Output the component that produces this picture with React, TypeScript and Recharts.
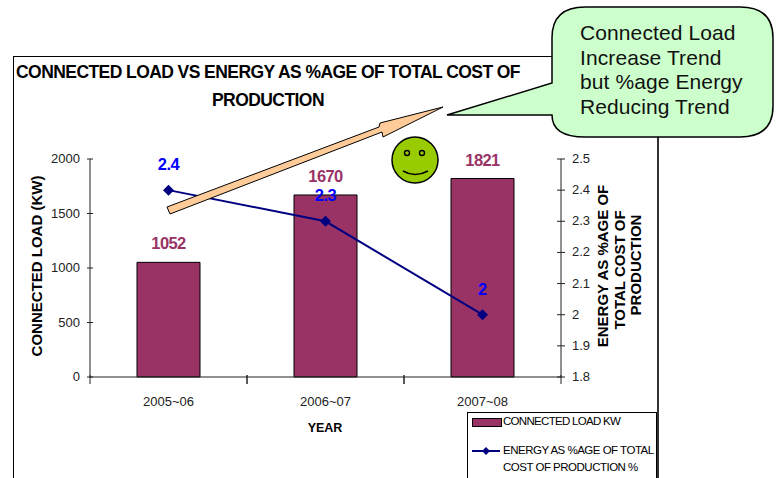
import React from "react";
import { ComposedChart, Bar, Line, XAxis, YAxis, LabelList, Legend } from "recharts";

const years = ["2005~06", "2006~07", "2007~08"];
const connectedLoad = [1052, 1670, 1821];
const energyPct = [2.4, 2.3, 2];
const leftTicks = [0, 500, 1000, 1500, 2000];
const rightTicks = [1.8, 1.9, 2, 2.1, 2.2, 2.3, 2.4, 2.5];
const titleLines = ["CONNECTED LOAD VS ENERGY AS %AGE OF TOTAL COST OF", "PRODUCTION"];
const calloutLines = ["Connected Load", "Increase Trend", "but %age Energy", "Reducing Trend"];
const BAR_NAME = "CONNECTED LOAD KW";
const LINE_NAME = ["ENERGY  AS %AGE OF TOTAL", "COST OF PRODUCTION %"];

const rows = years.map((y, i) => ({ year: y, load: connectedLoad[i], energy: energyPct[i] }));
const FONT = "'Liberation Sans', Arial, sans-serif";
const AXIS = "#222";
const TXT = "#222";
const BAND = 157;

const LeftTick = ({ x, y, payload }: any) => (
  <g>
    <line x1={x - 3} x2={x + 3} y1={y} y2={y} stroke={AXIS} />
    <text x={x - 10} y={y} dy={4} textAnchor="end" fontSize={13} fontFamily={FONT} fill={TXT}>{payload.value}</text>
  </g>
);
const RightTick = ({ x, y, payload }: any) => (
  <g>
    <line x1={x - 4} x2={x + 4} y1={y} y2={y} stroke={AXIS} />
    <text x={x + 11} y={y} dy={4} textAnchor="start" fontSize={13} fontFamily={FONT} fill={TXT}>{payload.value}</text>
  </g>
);
const BottomTick = ({ x, y, payload }: any) => (
  <g>
    <line x1={x - BAND / 2} x2={x - BAND / 2} y1={y - 4} y2={y + 5} stroke={AXIS} />
    <line x1={x + BAND / 2} x2={x + BAND / 2} y1={y - 4} y2={y + 5} stroke={AXIS} />
    <text x={x} y={y + 27} textAnchor="middle" fontSize={13} fontFamily={FONT} fill={TXT}>{payload.value}</text>
  </g>
);

const LegendBox = () => (
  <div style={{ position: "relative", width: 190, height: 66, border: "1px solid #000", borderBottom: "none", boxSizing: "border-box", background: "#fff", fontFamily: FONT, fontSize: 11.5, letterSpacing: -0.7, color: "#000", overflow: "hidden" }}>
    <div style={{ position: "absolute", left: 4, top: 5, width: 28, height: 7, background: "#993366", border: "1px solid #000" }} />
    <div style={{ position: "absolute", left: 35, top: 2, whiteSpace: "nowrap" }}>{BAR_NAME}</div>
    <svg style={{ position: "absolute", left: 4, top: 31 }} width={28} height={14}>
      <line x1={0} x2={28} y1={7} y2={7} stroke="#000080" strokeWidth={2} />
      <path d="M14 3 L18 7 L14 11 L10 7 Z" fill="#000080" />
    </svg>
    <div style={{ position: "absolute", left: 35, top: 29, whiteSpace: "nowrap", lineHeight: "17px", letterSpacing: -0.5 }}>
      <div>{LINE_NAME[0]}</div>
      <div>{LINE_NAME[1]}</div>
    </div>
  </div>
);

const Overlay = () => (
  <svg width={783} height={478} style={{ position: "absolute", left: 0, top: 0, pointerEvents: "none" }}>
    <path d="M167 207 L379 127 L380 123 L443 107 L383 137 L382 132 L170 214 Z" fill="#FFCC99" stroke="#000" strokeWidth={1} />
    <circle cx={415} cy={160} r={23} fill="#99CC00" stroke="#000" strokeWidth={1.5} />
    <circle cx={407} cy={153} r={2.5} fill="none" stroke="#000" strokeWidth={1.4} />
    <circle cx={422} cy={153} r={2.5} fill="none" stroke="#000" strokeWidth={1.4} />
    <path d="M403 171 Q415 178 428 171" fill="none" stroke="#000" strokeWidth={1.5} />
    <path d="M585 7 H740 Q773 7 773 38 V106 Q773 137 740 137 H585 Q552 137 552 115 L447 115 L552 83 V38 Q552 7 585 7 Z" fill="#CCFFCC" stroke="#000" strokeWidth={1.5} />
    {calloutLines.map((l, i) => (
      <text key={l} x={580} y={40 + i * 24.5} fontFamily={FONT} fontSize={21} letterSpacing={0.1} fill="#111">{l}</text>
    ))}
  </svg>
);

export default function App() {
  return (
    <div style={{ position: "absolute", left: 0, top: 0, width: 783, height: 478, overflow: "hidden", background: "#fff" }}>
      <div style={{ position: "absolute", left: 13, top: 56, width: 646, height: 440, borderTop: "1.5px solid #000", borderLeft: "1.5px solid #000", borderRight: "2px solid #333", boxSizing: "border-box" }} />
      <div style={{ position: "absolute", left: 0, top: 0 }}>
        <ComposedChart width={783} height={478} data={rows} margin={{ top: 159, right: 162, bottom: 5, left: 30 }}>
          <XAxis dataKey="year" height={30} stroke={AXIS} tick={<BottomTick />} tickLine={false} tickSize={0} />
          <YAxis yAxisId="l" width={60} domain={[0, 2000]} ticks={leftTicks} stroke={AXIS} tickLine={false} tick={<LeftTick />} tickMargin={0} tickSize={0} interval={0} />
          <YAxis yAxisId="r" orientation="right" width={60} domain={[1.8, 2.5]} ticks={rightTicks} stroke={AXIS} tickLine={false} tick={<RightTick />} tickSize={0} tickMargin={0} interval={0} />
          <Bar yAxisId="l" dataKey="load" name={BAR_NAME} fill="#993366" stroke="#000" strokeWidth={1} barSize={63} isAnimationActive={false}>
            <LabelList dataKey="load" position="top" offset={13} fill="#993366" fontFamily={FONT} fontWeight="bold" fontSize={16.5} letterSpacing={-0.6} />
          </Bar>
          <Line yAxisId="r" dataKey="energy" name="energy" stroke="#000080" strokeWidth={2} isAnimationActive={false}
            dot={(p: any) => <path key={p.index} d={`M${p.cx} ${p.cy - 5.5} L${p.cx + 5.5} ${p.cy} L${p.cx} ${p.cy + 5.5} L${p.cx - 5.5} ${p.cy} Z`} fill="#000080" />}>
            <LabelList dataKey="energy" position="top" offset={20} fill="#0000FF" fontFamily={FONT} fontWeight="bold" fontSize={16.5} letterSpacing={-0.4} />
          </Line>
          <Legend content={<LegendBox />} layout="horizontal" verticalAlign="bottom" align="left" wrapperStyle={{ left: 467, bottom: 0, width: 190, height: 66 }} />
        </ComposedChart>
      </div>
      <svg width={783} height={478} style={{ position: "absolute", left: 0, top: 0, pointerEvents: "none" }}>
        {titleLines.map((l, i) => (
          <text key={l} x={268} y={78 + i * 28} textAnchor="middle" fontFamily={FONT} fontWeight="bold" fontSize={17.5} letterSpacing={-0.57} fill="#000">{l}</text>
        ))}
        <text x={325} y={432} textAnchor="middle" fontFamily={FONT} fontWeight="bold" fontSize={12.5}>YEAR</text>
        <text transform="translate(42,266) rotate(-90)" textAnchor="middle" fontFamily={FONT} fontWeight="bold" fontSize={15}>CONNECTED LOAD (KW)</text>
        <text transform="translate(608,266) rotate(-90)" textAnchor="middle" fontFamily={FONT} fontWeight="bold" fontSize={15}>ENERGY AS %AGE OF</text>
        <text transform="translate(625,270) rotate(-90)" textAnchor="middle" fontFamily={FONT} fontWeight="bold" fontSize={15}>TOTAL COST OF</text>
        <text transform="translate(641,265) rotate(-90)" textAnchor="middle" fontFamily={FONT} fontWeight="bold" fontSize={15}>PRODUCTION</text>
      </svg>
      <Overlay />
    </div>
  );
}
